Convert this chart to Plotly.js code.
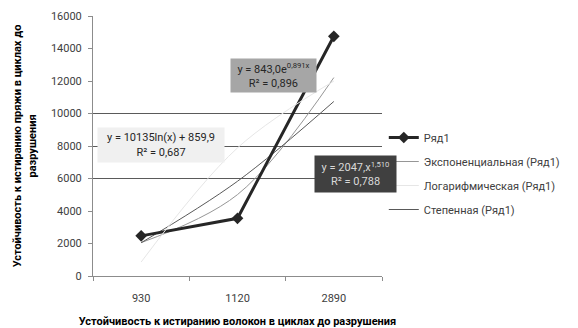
<!DOCTYPE html>
<html><head><meta charset="utf-8">
<script src="https://cdn.plot.ly/plotly-3.0.1.min.js"></script>
<style>html,body{margin:0;padding:0;background:#fff}#chart{width:578px;height:328px}</style>
</head><body><div id="chart"></div>
<script>
const categories = ["930", "1120", "2890"];
const series1 = [2470, 3550, 14750];
const expTrend = [2055, 5010, 12210];
const logTrend = [860, 7885, 11995];
const powTrend = [2047, 5830, 10740];
const yTicks = [0, 2000, 4000, 6000, 8000, 10000, 12000, 14000, 16000];
const yTickText = ["0", "2000", "4000", "6000", "8000", "10000", "12000", "14000", "16000"];
const yGrid = [6000, 8000, 10000, 16000];

const FONT = "Roboto, 'Noto Sans', sans-serif";

const traces = [
  {x: categories, y: expTrend, name: "Экспоненциальная (Ряд1)", type: "scatter", mode: "lines",
   line: {color: "#969696", width: 1, shape: "spline"}, legendrank: 2, legendgroup: "g2"},
  {x: categories, y: logTrend, name: "Логарифмическая (Ряд1)", type: "scatter", mode: "lines",
   line: {color: "#e6e6e6", width: 1, shape: "spline"}, legendrank: 3, legendgroup: "g3", yaxis: "y2"},
  {x: categories, y: powTrend, name: "Степенная (Ряд1)", type: "scatter", mode: "lines",
   line: {color: "#595959", width: 1, shape: "spline"}, legendrank: 4, legendgroup: "g4"},
  {x: categories, y: series1, name: "Ряд1", type: "scatter", mode: "lines+markers",
   line: {color: "#262626", width: 3}, marker: {symbol: "diamond", size: 9, color: "#262626"},
   legendrank: 1, legendgroup: "g1"}
];

const layout = {
  width: 578, height: 328,
  margin: {l: 93, r: 196, t: 16, b: 52},
  paper_bgcolor: "#fff", plot_bgcolor: "#fff",
  font: {family: FONT, size: 11, color: "#404040"},
  showlegend: true,
  legend: {xref: "container", yref: "container", x: 0.664, y: 0.625, xanchor: "left", yanchor: "top",
           traceorder: "grouped", tracegroupgap: 5, itemwidth: 30,
           font: {family: FONT, size: 11, color: "#404040"}, bgcolor: "rgba(0,0,0,0)"},
  xaxis: {type: "category", range: [-0.5, 2.5], showgrid: false, showline: true, linecolor: "#8c8c8c",
          ticks: "outside", tickson: "boundaries", ticklen: 4, tickcolor: "#8c8c8c",
          ticklabelstandoff: 12, zeroline: false,
          title: {text: "<b>Устойчивость к истиранию волокон в циклах до разрушения</b>", standoff: 14,
                  font: {family: FONT, size: 11, color: "#000"}}},
  yaxis: {range: [0, 16000], tickvals: yTicks, ticktext: yTickText, showgrid: false, showline: true,
          linecolor: "#8c8c8c", ticks: "outside", ticklen: 4, tickcolor: "#8c8c8c", zeroline: false,
          ticklabelstandoff: 4,
          title: {text: "<b>Устойчивость к истиранию пряжи в циклах до<br>разрушения</b>", standoff: 12,
                  font: {family: FONT, size: 11, color: "#000"}}},
  yaxis2: {range: [0, 16000], overlaying: "y", tickvals: yGrid, showgrid: true, gridcolor: "#5a5a5a",
           gridwidth: 1, showticklabels: false, ticks: "", zeroline: false, showline: false},
  annotations: [
    {xref: "paper", yref: "paper", x: 0.625, y: 0.771, xanchor: "center", yanchor: "middle", showarrow: false,
     text: "y = 843,0e<sup>0,891x</sup><br>R² = 0,896", bgcolor: "#a6a6a6", width: 83, height: 31,
     font: {family: FONT, size: 11, color: "#262626"}},
    {xref: "paper", yref: "paper", x: 0.235, y: 0.504, xanchor: "center", yanchor: "middle", showarrow: false,
     text: "y = 10135ln(x) + 859,9<br>R² = 0,687", bgcolor: "#f0f0f0", width: 124, height: 32,
     font: {family: FONT, size: 11, color: "#262626"}},
    {xref: "paper", yref: "paper", x: 0.908, y: 0.392, xanchor: "center", yanchor: "middle", showarrow: false,
     text: "y = 2047,x<sup>1,510</sup><br>R² = 0,788", bgcolor: "#404040", width: 79, height: 34,
     font: {family: FONT, size: 11, color: "#d9d9d9"}}
  ]
};

Plotly.newPlot("chart", traces, layout, {displayModeBar: false, staticPlot: true});
</script>
</body></html>
